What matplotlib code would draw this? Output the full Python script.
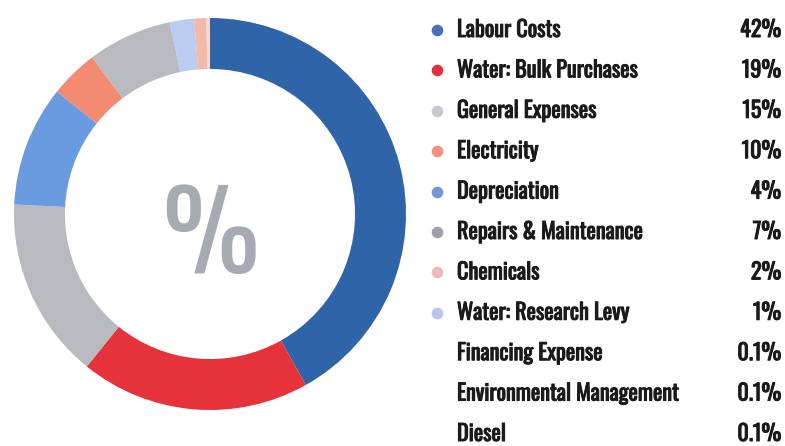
import matplotlib.pyplot as plt
from matplotlib import font_manager
import matplotlib.patheffects as pe

# expense categories and their share (%) as printed
labels = ["Labour Costs", "Water: Bulk Purchases", "General Expenses", "Electricity",
          "Depreciation", "Repairs & Maintenance", "Chemicals", "Water: Research Levy",
          "Financing Expense", "Environmental Management", "Diesel"]
values = [42, 19, 15, 10, 4, 7, 2, 1, 0.1, 0.1, 0.1]
value_text = ["42%", "19%", "15%", "10%", "4%", "7%", "2%", "1%", "0.1%", "0.1%", "0.1%"]

# ring colours, in drawing order (they don't follow the legend dots in the source)
ring_colors = ["#2f64a8", "#e5323b", "#b9bac0", "#6a9ae0", "#f38a72", "#b9bac0",
               "#bccbf0", "#f2b9a8", "#f5d5cc", "#f5d5cc", "#f5d5cc"]
# legend dot colours (None = no dot)
dot_colors = ["#4a70b8", "#e5303c", "#c8cad0", "#f39080", "#7396da", "#9fa0a8",
              "#f2b8b8", "#c0c2f0", None, None, None]

names = set(f.name for f in font_manager.fontManager.ttflist)
font = next((f for f in ["Oswald", "League Gothic", "Roboto Condensed", "Liberation Sans Narrow"]
             if f in names), "DejaVu Sans")
fam = [font, "DejaVu Sans"]
bold = [pe.withStroke(linewidth=0.7, foreground="#1a1a1a")]

W, H = 785, 446
fig = plt.figure(figsize=(W / 100, H / 100), dpi=100)

# donut
cx, cy, r = 210, 214, 196
ax = fig.add_axes([(cx - r) / W, (H - cy - r) / H, 2 * r / W, 2 * r / H])
ax.pie(values, colors=ring_colors, startangle=90, counterclock=False, radius=1,
       wedgeprops=dict(width=0.26, linewidth=0))
ax.set_xlim(-1, 1)
ax.set_ylim(-1, 1)
ax.set_aspect("equal")
ax.axis("off")
ax.text(0, -0.13, "%", ha="center", va="center", fontsize=78, color="#a7aab3",
        family=fam)

# legend drawn in pixel space
lg = fig.add_axes([0, 0, 1, 1])
lg.set_xlim(0, W)
lg.set_ylim(H, 0)
lg.axis("off")
y0, dy = 30, 40.4
for i, lab in enumerate(labels):
    y = y0 + dy * i
    if dot_colors[i]:
        lg.scatter(437, y, s=70, color=dot_colors[i], linewidths=0)
    lg.text(457, y, lab, ha="left", va="center", fontsize=16,
            color="#1a1a1a", family=fam, path_effects=bold)
    lg.text(781, y, value_text[i], ha="right", va="center", fontsize=16,
            color="#1a1a1a", family=fam, path_effects=bold)

fig.savefig("out.png", dpi=100)
